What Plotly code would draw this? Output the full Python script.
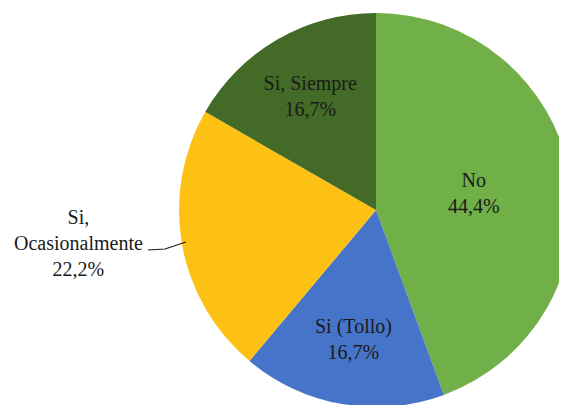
import plotly.graph_objects as go

labels = ["No", "Si (Tollo)", "Si, Ocasionalmente", "Si, Siempre"]
values = [44.4, 16.7, 22.2, 16.7]
colors = ["#71AF48", "#4674C8", "#FDC114", "#436B27"]

W, H = 567, 405
OFF = 8  # page body margin offset
FONT = "Liberation Serif"

templates = ["%{label}<br>%{percent:.1%}", "%{label}<br>%{percent:.1%}", "", "%{label}<br>%{percent:.1%}"]

fig = go.Figure(go.Pie(
    labels=labels,
    values=values,
    sort=False,
    direction="clockwise",
    rotation=0,
    marker=dict(colors=colors, line=dict(width=0)),
    texttemplate=templates,
    textposition="inside",
    insidetextorientation="horizontal",
    textfont=dict(family=FONT, size=20, color="#1a1a1a"),
    domain=dict(x=[0.3016, 0.9965], y=[0.0148, 0.9877]),
    showlegend=False,
    hoverinfo="label+percent",
))

def pxx(x):
    return (x - OFF) / W

def pxy(y):
    return 1 - (y - OFF) / H

occ_pct = f"{values[2]:.1f}".replace(".", ",") + "%"
fig.add_annotation(
    x=pxx(78), y=pxy(243), xref="paper", yref="paper",
    xanchor="center", yanchor="middle",
    text="Si,<br>Ocasionalmente<br>" + occ_pct,
    showarrow=False, align="center",
    font=dict(family=FONT, size=20, color="#1a1a1a"),
)

def px(x, y):
    return f"{pxx(x):.4f},{pxy(y):.4f}"

fig.add_shape(
    type="path", xref="paper", yref="paper",
    path=f"M {px(148, 250)} L {px(165, 249)} L {px(186, 242)}",
    line=dict(color="#1a1a1a", width=1.2),
)

fig.update_layout(
    width=W, height=H,
    margin=dict(l=0, r=0, t=0, b=0),
    paper_bgcolor="white",
    separators=",.",
    font=dict(family=FONT),
)

fig.write_html("out.html")
